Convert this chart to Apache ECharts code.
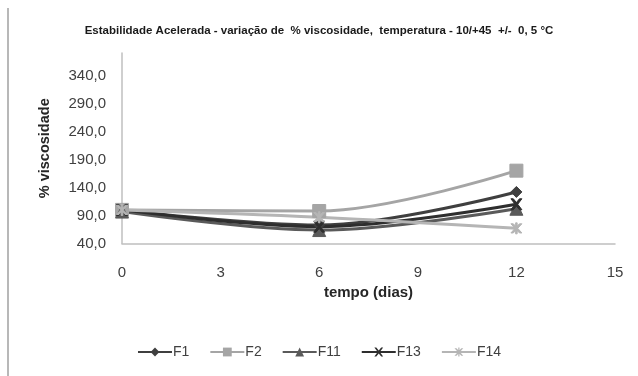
<!DOCTYPE html>
<html>
<head>
<meta charset="utf-8">
<script src="https://cdn.jsdelivr.net/npm/echarts@6/dist/echarts.min.js"></script>
<style>
html,body{margin:0;padding:0;background:#fff;}
#c{width:638px;height:376px;}
</style>
</head>
<body>
<div id="c"></div>
<script>
var days = [0, 6, 12];
var seriesNames = ['F1', 'F2', 'F11', 'F13', 'F14'];
var F1 = [100, 73, 132];
var F2 = [100, 98, 170];
var F11 = [97, 64, 102];
var F13 = [100, 70, 110];
var F14 = [100, 87, 67];
var titleText = 'Estabilidade Acelerada - variação de  % viscosidade,  temperatura - 10/+45  +/-  0, 5 °C';

var X_PATH = 'path://M0,0 L2.2,0 L5,3.4 L7.8,0 L10,0 L6.2,5 L10,10 L7.8,10 L5,6.6 L2.2,10 L0,10 L3.8,5 Z';
var STAR_PATH = 'path://M0,0 L2.2,0 L5,3.4 L7.8,0 L10,0 L6.2,5 L10,10 L7.8,10 L5,6.6 L2.2,10 L0,10 L3.8,5 Z M4.3,-1 L5.7,-1 L5.7,11 L4.3,11 Z';

function pts(arr){ return days.map(function(d,i){ return [d, arr[i]]; }); }

var styles = {
  F1: {color:'#3f3f3f', symbol:'diamond', size:11},
  F2: {color:'#a5a5a5', symbol:'rect', size:13},
  F11: {color:'#5a5a5a', symbol:'triangle', size:13},
  F13: {color:'#2e2e2e', symbol:X_PATH, size:11},
  F14: {color:'#b5b5b5', symbol:STAR_PATH, size:11}
};
var dataMap = {F1:F1, F2:F2, F11:F11, F13:F13, F14:F14};

var chart = echarts.init(document.getElementById('c'));
var font = 'Liberation Sans, Arial, sans-serif';
chart.setOption({
  animation:false,
  backgroundColor:'#fff',
  title:{
    text:titleText, left:'center', top:20,
    textStyle:{fontFamily:font, fontSize:11.5, fontWeight:'bold', color:'#1a1a1a'}
  },
  graphic:[{type:'line', shape:{x1:8,y1:8,x2:8,y2:376}, style:{stroke:'#b8b8b8', lineWidth:2}}],
  grid:{left:122, right:23, top:53, bottom:132.5},
  legend:{
    data:seriesNames, bottom:12, left:'center', itemGap:20, itemWidth:34, itemHeight:11,
    textStyle:{fontFamily:font, fontSize:14, color:'#404040', padding:[0,0,0,-4]}
  },
  xAxis:{
    type:'value', min:0, max:15, interval:3,
    name:'tempo (dias)', nameLocation:'middle', nameGap:40,
    nameTextStyle:{fontFamily:font, fontSize:15, fontWeight:'bold', color:'#262626'},
    axisLine:{lineStyle:{color:'#bfbfbf', width:1.5}},
    axisTick:{show:false},
    splitLine:{show:false},
    axisLabel:{fontFamily:font, fontSize:15, color:'#404040', margin:22}
  },
  yAxis:{
    type:'value', min:40, max:380, interval:50,
    name:'% viscosidade', nameLocation:'middle', nameGap:70, nameRotate:90,
    nameTextStyle:{fontFamily:font, fontSize:14.5, fontWeight:'bold', color:'#262626'},
    axisLine:{show:true, lineStyle:{color:'#bfbfbf', width:1.5}},
    axisTick:{show:false},
    splitLine:{show:false},
    axisLabel:{fontFamily:font, fontSize:15, color:'#404040', margin:16, showMaxLabel:false,
      formatter:function(v){ return v.toFixed(1).replace('.', ','); }}
  },
  series: seriesNames.map(function(n){
    var s = styles[n];
    return {
      name:n, type:'line', data:pts(dataMap[n]), smooth:0.35,
      symbol:s.symbol, symbolSize:s.size,
      lineStyle:{color:s.color, width:3},
      itemStyle:{color:s.color, borderColor:s.color}
    };
  })
});
</script>
</body>
</html>
